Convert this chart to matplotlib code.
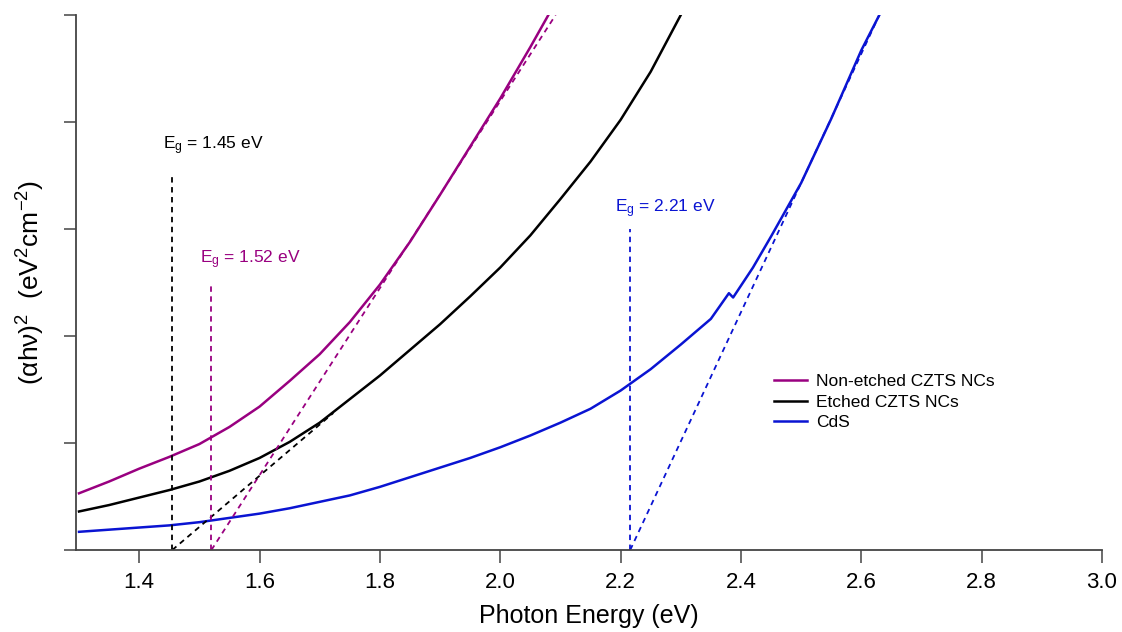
import matplotlib
matplotlib.use("Agg")
from matplotlib import pyplot as plt

plt.rcParams['font.family'] = ['Liberation Sans', 'DejaVu Sans']
plt.rcParams['mathtext.fontset'] = 'custom'
plt.rcParams['mathtext.rm'] = 'Liberation Sans'
plt.rcParams['mathtext.it'] = 'Liberation Sans:italic'

# photon energy (eV) and (alpha h nu)^2 in axis units
nonetched_x = [1.30, 1.35, 1.40, 1.45, 1.50, 1.55, 1.60, 1.65, 1.70, 1.75,
               1.80, 1.85, 1.90, 1.95, 2.00, 2.05, 2.08]
nonetched_y = [0.53, 0.64, 0.76, 0.87, 0.99, 1.15, 1.34, 1.58, 1.83, 2.13,
               2.48, 2.88, 3.32, 3.77, 4.22, 4.70, 5.00]

etched_x = [1.30, 1.35, 1.40, 1.45, 1.50, 1.55, 1.60, 1.65, 1.70, 1.75, 1.80,
            1.85, 1.90, 1.95, 2.00, 2.05, 2.10, 2.15, 2.20, 2.25, 2.30]
etched_y = [0.36, 0.42, 0.49, 0.56, 0.64, 0.74, 0.86, 1.01, 1.19, 1.41, 1.63,
            1.87, 2.11, 2.37, 2.64, 2.94, 3.28, 3.63, 4.02, 4.47, 5.00]

cds_x = [1.30, 1.35, 1.40, 1.45, 1.50, 1.55, 1.60, 1.65, 1.70, 1.75, 1.80,
         1.85, 1.90, 1.95, 2.00, 2.05, 2.10, 2.15, 2.20, 2.25, 2.30, 2.35,
         2.38, 2.387, 2.42, 2.45, 2.50, 2.55, 2.60, 2.63]
cds_y = [0.17, 0.19, 0.21, 0.23, 0.26, 0.30, 0.34, 0.39, 0.45, 0.51, 0.59,
         0.68, 0.77, 0.86, 0.96, 1.07, 1.19, 1.32, 1.49, 1.69, 1.92, 2.16,
         2.40, 2.36, 2.64, 2.93, 3.43, 4.03, 4.67, 5.00]

# linear fits (start at Eg on the axis) and the Eg markers
fit_nonetched = ([1.52, 2.092], [0.0, 5.0])
fit_etched = ([1.455, 1.7225], [0.0, 1.28])
fit_cds = ([2.216, 2.63], [0.0, 5.0])

eg_values = [1.455, 1.52, 2.216]
eg_tops = [3.5, 2.5, 3.0]
eg_labels = ['1.45', '1.52', '2.21']
eg_text_pos = [(1.44, 3.78), (1.501, 2.71), (2.191, 3.19)]

purple = '#990080'
blue = '#0a14d2'
black = '#000000'
eg_colors = [black, purple, blue]

fig = plt.figure(figsize=(11.22, 6.32), dpi=100)
ax = fig.add_axes([76 / 1122, 82 / 632, 1026 / 1122, 535 / 632])

ax.plot(nonetched_x, nonetched_y, color=purple, lw=1.8, label='Non-etched CZTS NCs')
ax.plot(etched_x, etched_y, color=black, lw=1.8, label='Etched CZTS NCs')
ax.plot(cds_x, cds_y, color=blue, lw=1.8, label='CdS')

dash = (0, (3, 2.5))
ax.plot(*fit_nonetched, color=purple, lw=1.3, ls=dash)
ax.plot(*fit_etched, color=black, lw=1.3, ls=dash)
ax.plot(*fit_cds, color=blue, lw=1.3, ls=dash)

for xv, top, c, lab, pos in zip(eg_values, eg_tops, eg_colors, eg_labels, eg_text_pos):
    ax.plot([xv, xv], [0, top], color=c, lw=1.3, ls=dash)
    ax.text(pos[0], pos[1], 'E$_{\\mathregular{g}}$ = ' + lab + ' eV', color=c,
            fontsize=12.5, ha='left', va='center')

ax.set_xlim(1.295, 3.0)
ax.set_ylim(0, 5)
ax.set_xticks([1.4, 1.6, 1.8, 2.0, 2.2, 2.4, 2.6, 2.8, 3.0])
ax.set_xticklabels(['1.4', '1.6', '1.8', '2.0', '2.2', '2.4', '2.6', '2.8', '3.0'])
ax.set_yticks([0, 1, 2, 3, 4, 5])
ax.set_yticklabels([])

for s in ['top', 'right']:
    ax.spines[s].set_visible(False)
for s in ['left', 'bottom']:
    ax.spines[s].set_color('#444444')
    ax.spines[s].set_linewidth(1.3)
ax.tick_params(axis='both', direction='out', length=9, width=1.1, color='#444444',
               labelsize=16, pad=7)

ax.set_xlabel('Photon Energy (eV)', fontsize=18, labelpad=8)
ax.set_ylabel('(αhν)$^{\\mathregular{2}}$  (eV$^{\\mathregular{2}}$cm$^{\\mathregular{-2}}$)',
              fontsize=19, labelpad=5)

ax.legend(loc='center left', bbox_to_anchor=(0.672, 0.2766), frameon=False,
          fontsize=12.5, borderpad=0, labelspacing=0.3, handlelength=1.9,
          handletextpad=0.5)

fig.savefig('out.png', dpi=100)
